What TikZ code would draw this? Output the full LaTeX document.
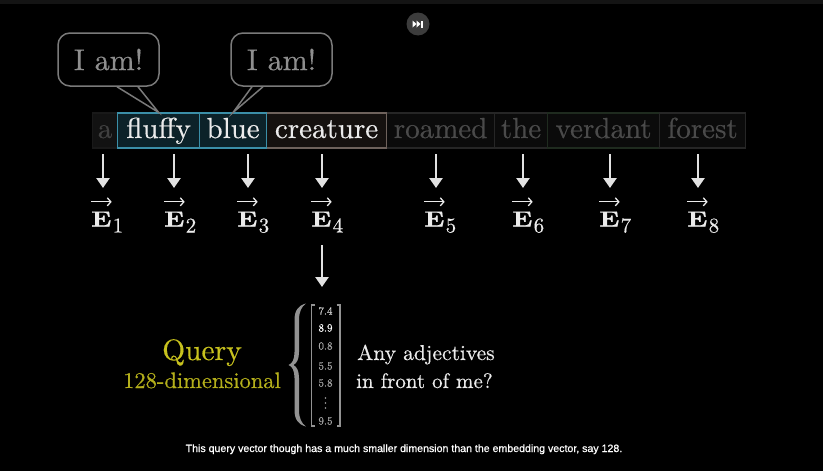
\documentclass[tikz,border=0pt]{standalone}
\usepackage{fontspec}
\usepackage{graphicx}
\setmainfont{lmroman10-regular.otf}[BoldFont=lmroman10-bold.otf, FakeBold=0.4]
\newfontfamily\capfont{Liberation Sans}[FakeBold=0.8]
\usetikzlibrary{arrows.meta}
\definecolor{topbar}{HTML}{141414}
\definecolor{dimtext}{HTML}{4A4A4A}
\definecolor{dimborder}{HTML}{262626}
\definecolor{dimfill}{HTML}{0B0B0B}
\definecolor{tealborder}{HTML}{3B8FA8}
\definecolor{tealfill}{HTML}{0C2229}
\definecolor{brownborder}{HTML}{6E625C}
\definecolor{brownfill}{HTML}{15110F}
\definecolor{greenborder}{HTML}{1F2B1F}
\definecolor{brighttext}{HTML}{EBEBEB}
\definecolor{bubblegray}{HTML}{7A7A7A}
\definecolor{bubbletext}{HTML}{8E8E8E}
\definecolor{arrowc}{HTML}{E2E2E2}
\definecolor{qyellow}{HTML}{C8C21E}
\definecolor{btngray}{HTML}{3C3C3C}
\definecolor{pinkred}{HTML}{E8104A}
\begin{document}
\begin{tikzpicture}[x=1pt,y=-1pt,
  word/.style={draw, line width=1.2pt, inner sep=0pt, minimum height=35pt,
    text height=20pt, text depth=5pt, anchor=west, font=\fontsize{29}{35}\selectfont},
  dimword/.style={word, draw=dimborder, fill=dimfill, text=dimtext},
  tealword/.style={word, draw=tealborder, fill=tealfill, text=brighttext},
  bubble/.style={draw=bubblegray, line width=1.5pt, rounded corners=12pt,
    minimum width=101pt, minimum height=53pt, text=bubbletext,
    font=\fontsize{30}{35}\selectfont},
  tail/.style={draw=bubblegray, line width=1.5pt},
  arr/.style={draw=arrowc, line width=2.6pt, -{Triangle[width=13pt,length=10pt]}},
  elab/.style={anchor=base west, inner sep=0pt, text=brighttext, font=\fontsize{22}{26}\selectfont\bfseries},
  esub/.style={anchor=base west, inner sep=0pt, text=brighttext, font=\fontsize{21}{25}\selectfont},
  vecarr/.style={draw=brighttext, line width=1.3pt, -{Straight Barb[length=3.5pt,width=8pt]}},
  entry/.style={inner sep=0pt, font=\fontsize{11}{13}\selectfont, text=gray!70},
  bracket/.style={draw=gray!85, line width=1.1pt},
  ]
\fill[black] (0,0) rectangle (823,471);
\useasboundingbox (0,0) rectangle (823,471);
\fill[topbar] (0,0) rectangle (823,4);

% skip button
\fill[btngray] (418,24) circle (11.5);
\fill[white] (412.5,20.5) -- (416.5,24) -- (412.5,27.5) -- cycle;
\fill[white] (416.5,20.5) -- (420.5,24) -- (416.5,27.5) -- cycle;
\fill[white] (421,20.5) rectangle (423,27.5);

% words
\node[dimword, minimum width=25pt, text=gray!50!black, draw=gray!20!black, fill=black!93] (w1) at (92,130.5) {a};
\node[dimword, minimum width=108pt] (w5) at (386,130.5) {roamed};
\node[dimword, minimum width=53pt] (w6) at (494,130.5) {the};
\node[dimword, minimum width=112pt, draw=greenborder] (w7) at (547,130.5) {verdant};
\node[dimword, minimum width=86pt] (w8) at (659,130.5) {forest};
\node[word, minimum width=120pt, draw=brownborder, fill=brownfill, text=brighttext] (w4) at (266,130.5) {creature};
\node[tealword, minimum width=82pt] (w2) at (117,130.5) {fluffy};
\node[tealword, minimum width=67pt] (w3) at (199,130.5) {blue};

% bubbles
\node[bubble] (b1) at (108.5,59.5) {I am!};
\node[bubble] (b2) at (281.5,59.5) {I am!};
\fill[black] ([xshift=9.2pt,yshift=-1.2pt]b1.south) -- (w2.north) -- ([xshift=28.8pt,yshift=-1.2pt]b1.south) -- cycle;
\draw[tail] ([xshift=8.5pt]b1.south) -- (w2.north) -- ([xshift=29.5pt]b1.south);
\fill[black] ([xshift=-28.8pt,yshift=-1.2pt]b2.south) -- (w3.north) -- ([xshift=-19.2pt,yshift=-1.2pt]b2.south) -- cycle;
\draw[tail] ([xshift=-29.5pt]b2.south) -- (w3.north) -- ([xshift=-18.5pt]b2.south);

% embedding labels
\foreach \i/\xl in {1/91,2/164,3/237,4/311,5/424,6/512,7/599,8/687}{
  \node[elab] (e\i) at (\xl,226.5) {\scalebox{1.22}[1]{E}};
  \node[esub] (s\i) at ([xshift=0.8pt,yshift=-6pt]e\i.base east) {\i};
  \draw[vecarr] ([yshift=9.5pt]e\i.north west) -- ([yshift=9.5pt]e\i.north east);
}

\coordinate (a1) at (103,154);
\coordinate (a2) at (174,154);
\coordinate (a3) at (248,154);
\coordinate (a4) at (322,154);
\coordinate (a5) at (436,154);
\coordinate (a6) at (523,154);
\coordinate (a7) at (610,154);
\coordinate (a8) at (698,154);
\foreach \i in {1,...,8}{
  \coordinate (t\i) at (a\i |- 0,188);
  \draw[arr] (a\i) -- (t\i);
}

% query vector
\coordinate (qs) at (322,245);
\coordinate (qe) at (322,287);
\draw[arr] (qs) -- (qe);

\node[anchor=base, text=qyellow, font=\fontsize{29.5}{35}\selectfont] (q) at (202,360) {Query};
\node[anchor=base, text=qyellow!90!black, font=\fontsize{22.5}{26}\selectfont] (qd) at (202,388) {128-dimensional};

\fill[gray!85] (306,303.5) .. controls (298,305.5) and (294.5,311) .. (294.5,320) -- (294.5,352)
  .. controls (294.5,359) and (292.5,363.5) .. (288.5,365) .. controls (292.5,366.5) and (294.5,371) .. (294.5,378)
  -- (294.5,410) .. controls (294.5,419) and (298,424.5) .. (306,426.5)
  .. controls (301.5,423.5) and (299,418) .. (299,410) -- (299,378)
  .. controls (299,371) and (297,367) .. (293.5,365) .. controls (297,363) and (299,359) .. (299,352)
  -- (299,320) .. controls (299,312) and (301.5,306.5) .. (306,303.5) -- cycle;

\draw[bracket] (315,305) -- (311.5,305) -- (311.5,426) -- (315,426);
\draw[bracket] (336.5,305) -- (340,305) -- (340,426) -- (336.5,426);
\node[entry, text=gray!35!white] (v1) at (325.5,311) {7.4};
\node[entry, text=white] (v2) at (325.5,328) {8.9};
\node[entry] (v3) at (325.5,346) {0.8};
\node[entry] (v4) at (325.5,366) {5.5};
\node[entry] (v5) at (325.5,383) {5.8};
\foreach \yy in {398,403,408}{\fill[gray!75] (325.5,\yy) circle (0.8);}
\node[entry] (v7) at (325.5,421) {9.5};

\node[anchor=base west, inner sep=0pt, text=brighttext, font=\fontsize{21.5}{25}\selectfont] (t1q) at (357,360) {Any adjectives};
\node[anchor=base west, inner sep=0pt, text=brighttext, font=\fontsize{21}{25}\selectfont] (t2q) at (356,388) {in front of me?};

\node[anchor=base, text=white, font=\capfont\fontsize{10.6}{13}\selectfont] (cap) at (404,452) {This query vector though has a much smaller dimension than the embedding vector, say 128.};

\begin{scope}
\clip (0,0) rectangle (823,471);
\fill[pinkred] (102,476.5) circle (5.5);
\end{scope}
\end{tikzpicture}
\end{document}
